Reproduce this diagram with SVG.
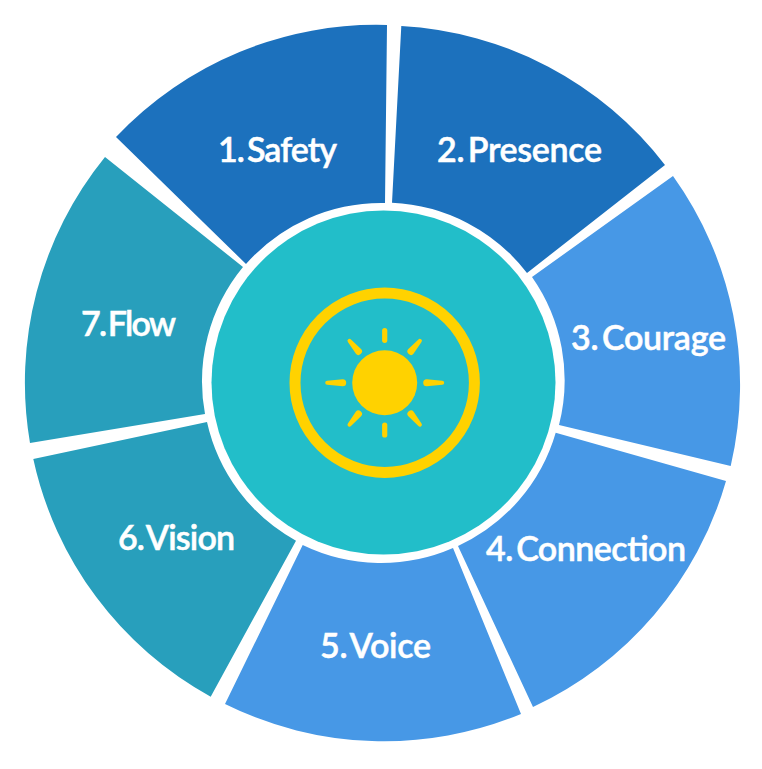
<svg xmlns="http://www.w3.org/2000/svg" width="762" height="769" viewBox="0 0 762 769">
<style>
.dark{fill:#1c71bd}.light{fill:#4798e6}.teal{fill:#289fbc}
text{font-family:"Lato","Liberation Sans",sans-serif;font-weight:600;font-size:34px;word-spacing:-4.500px;fill:#fff;stroke:#fff;stroke-width:.5px;text-anchor:middle}
.sun{fill:#ffd200}
</style>
<defs>
<path id="taper" d="M-20.500 -2 L-5 -3.500 A3.500 3.500 0 0 1 -5 3.500 L-20.500 2 A2 2 0 0 1 -20.500 -2 Z" class="sun"/>
</defs>
<rect width="762" height="769" fill="#fff"/>
<g id="segment-1"><path class="dark" d="M387 25 L385 203 A180 180 0 0 0 246 264 L116 137 A358 358 0 0 1 387 25 Z"/><text x="277.500" y="161.500" textLength="119">1. Safety</text></g>
<g id="segment-2"><path class="dark" d="M401.300 26 L392 202.700 A180 180 0 0 1 527 273 L665 165 A358 358 0 0 0 401.300 26 Z"/><text x="519.500" y="161.500" textLength="165">2. Presence</text></g>
<g id="segment-3"><path class="light" d="M673 176 A358 358 0 0 1 730.700 466 L559 425 A180 180 0 0 0 532 277 Z"/><text x="648.500" y="349.500" textLength="155">3. Courage</text></g>
<g id="segment-4"><path class="light" d="M726 481 A358 358 0 0 1 533 707 L458 546 A180 180 0 0 0 555.700 432.700 Z"/><text x="586" y="560.500" textLength="200">4. Connection</text></g>
<g id="segment-5"><path class="light" d="M521 714 A358 358 0 0 1 225 704 L302.700 545 A180 180 0 0 0 453 548 Z"/><text x="375.500" y="657.500" textLength="111">5. Voice</text></g>
<g id="segment-6"><path class="teal" d="M210.700 696.700 A358 358 0 0 1 33.300 459 L207 422 A180 180 0 0 0 296 540.700 Z"/><text x="176.500" y="549.500" textLength="117">6. Vision</text></g>
<g id="segment-7"><path class="teal" d="M30 443 A358 358 0 0 1 105 157 L243 267 A180 180 0 0 0 205 414 Z"/><text x="128.500" y="335.500" textLength="95">7. Flow</text></g>
<g id="center">
<circle cx="383.500" cy="382.500" r="172" fill="#22bec9"/>
<circle cx="384.700" cy="382.700" r="89.700" fill="none" stroke="#ffd200" stroke-width="11"/>
<circle class="sun" cx="384.700" cy="382.700" r="32.500"/>
<g transform="translate(384.700 382.700)">
<rect class="sun" x="-2.600" y="-54.800" width="5.200" height="15" rx="2.600"/>
<rect class="sun" x="-2.600" y="39.800" width="5.200" height="15" rx="2.600"/>
<use href="#taper" transform="translate(-37 0)"/>
<use href="#taper" transform="rotate(180) translate(-37 0)"/>
<use href="#taper" transform="rotate(50) translate(-36 0) scale(.92 1)"/>
<use href="#taper" transform="rotate(130) translate(-36 0) scale(.92 1)"/>
<use href="#taper" transform="rotate(230) translate(-36 0) scale(.92 1)"/>
<use href="#taper" transform="rotate(310) translate(-36 0) scale(.92 1)"/>
</g>
</g>
</svg>
